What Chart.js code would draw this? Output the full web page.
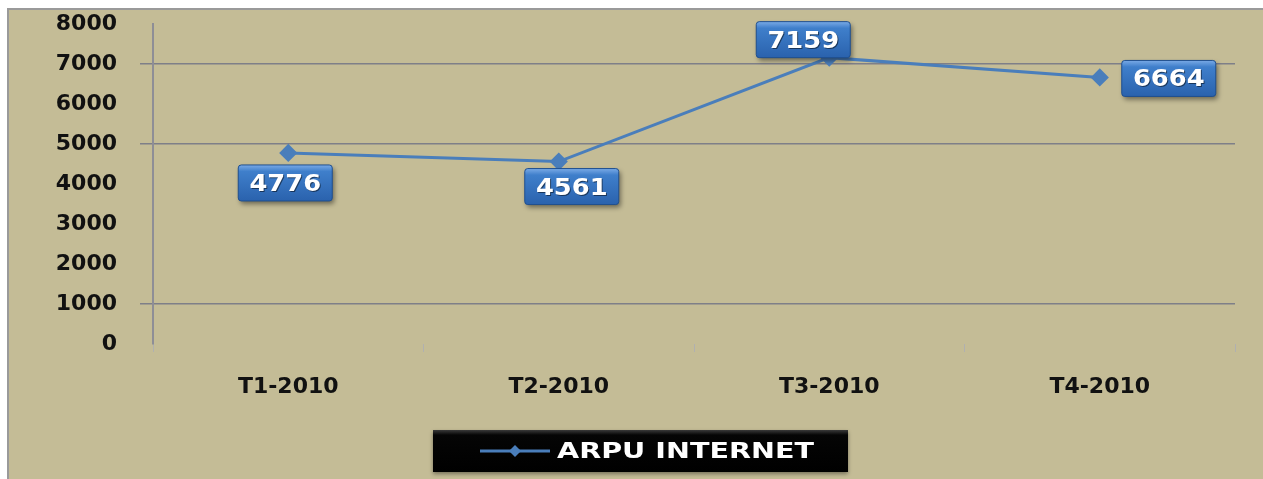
<!DOCTYPE html>
<html>
<head>
<meta charset="utf-8">
<script src="https://cdn.jsdelivr.net/npm/chart.js@4"></script>
<style>
  html, body { margin: 0; padding: 0; background: #fff; }
  #wrap { width: 1263px; height: 479px; }
</style>
</head>
<body>
<div id="wrap"><canvas id="arpuChart" width="1263" height="479"></canvas></div>
<script>
const quarters = ["T1-2010", "T2-2010", "T3-2010", "T4-2010"];
const arpuInternet = [4776, 4561, 7159, 6664];
const seriesName = "ARPU INTERNET";
const shownGrid = [1000, 5000, 7000];

const FONT = "'DejaVu Sans', Verdana, sans-serif";
const BLUE = '#4a7ebb';

// background + frame
const framePlugin = {
    id: 'frame',
    beforeDraw(chart) {
        const c = chart.ctx;
        c.save();
        c.fillStyle = '#ffffff';
        c.fillRect(0, 0, chart.width, chart.height);
        c.fillStyle = '#c4bc96';
        c.fillRect(8, 9, chart.width - 8, chart.height - 9);
        c.strokeStyle = '#9a9a9a';
        c.lineWidth = 2;
        c.strokeRect(8, 9, chart.width + 4, chart.height + 4);
        c.restore();
    }
};

function roundRect(c, x, y, w, h, r) {
    c.beginPath();
    c.moveTo(x + r, y);
    c.lineTo(x + w - r, y);
    c.quadraticCurveTo(x + w, y, x + w, y + r);
    c.lineTo(x + w, y + h - r);
    c.quadraticCurveTo(x + w, y + h, x + w - r, y + h);
    c.lineTo(x + r, y + h);
    c.quadraticCurveTo(x, y + h, x, y + h - r);
    c.lineTo(x, y + r);
    c.quadraticCurveTo(x, y, x + r, y);
    c.closePath();
}

// text squeezed wider, the source picture is stretched sideways
function wideText(c, txt, x, y, sx) {
    c.save();
    c.translate(x, y);
    c.scale(sx, 1);
    c.fillText(txt, 0, 0);
    c.restore();
}

// blue value boxes
const valueBoxes = {
    id: 'valueBoxes',
    afterDatasetsDraw(chart, args, opts) {
        const c = chart.ctx;
        const meta = chart.getDatasetMeta(0);
        meta.data.forEach((pt, i) => {
            const off = opts.offsets[i];
            const w = 94, h = 36;
            const cx = pt.x + off[0], cy = pt.y + off[1];
            const x = cx - w / 2, y = cy - h / 2;
            c.save();
            c.shadowColor = 'rgba(0,0,0,0.45)';
            c.shadowBlur = 5;
            c.shadowOffsetX = 2;
            c.shadowOffsetY = 3;
            const g = c.createLinearGradient(0, y, 0, y + h);
            g.addColorStop(0, '#7aaae6');
            g.addColorStop(0.18, '#3f7fcb');
            g.addColorStop(1, '#2a62ad');
            c.fillStyle = g;
            roundRect(c, x, y, w, h, 3);
            c.fill();
            c.shadowColor = 'transparent';
            c.strokeStyle = '#1f4f8f';
            c.lineWidth = 1;
            c.stroke();
            c.font = 'bold 23px ' + FONT;
            c.textAlign = 'center';
            c.textBaseline = 'middle';
            c.fillStyle = 'rgba(0,0,0,0.5)';
            wideText(c, String(arpuInternet[i]), cx + 1, cy + 3, 1.12);
            c.fillStyle = '#ffffff';
            wideText(c, String(arpuInternet[i]), cx, cy + 2, 1.12);
            c.restore();
        });
    }
};

// black legend strip at the bottom
const legendBox = {
    id: 'legendBox',
    afterDraw(chart) {
        const c = chart.ctx;
        const x = 433, y = 430, w = 415, h = 42;
        c.save();
        c.shadowColor = 'rgba(0,0,0,0.4)';
        c.shadowBlur = 4;
        c.shadowOffsetY = 2;
        const g = c.createLinearGradient(0, y, 0, y + h);
        g.addColorStop(0, '#3a3a3a');
        g.addColorStop(0.12, '#050505');
        g.addColorStop(1, '#000000');
        c.fillStyle = g;
        c.fillRect(x, y, w, h);
        c.shadowColor = 'transparent';
        const my = y + h / 2;
        c.strokeStyle = BLUE;
        c.lineWidth = 3;
        c.beginPath();
        c.moveTo(480, my);
        c.lineTo(550, my);
        c.stroke();
        c.fillStyle = BLUE;
        c.beginPath();
        c.moveTo(515, my - 6);
        c.lineTo(521, my);
        c.lineTo(515, my + 6);
        c.lineTo(509, my);
        c.closePath();
        c.fill();
        c.fillStyle = '#ffffff';
        c.font = 'bold 22px ' + FONT;
        c.textBaseline = 'middle';
        c.textAlign = 'left';
        wideText(c, seriesName, 557, my + 1, 1.3);
        c.restore();
    }
};

const ctx = document.querySelector('#arpuChart').getContext('2d');
const arpuChart = new Chart(ctx, {
    type: 'line',
    data: {
        labels: quarters,
        datasets: [{
            label: seriesName,
            data: arpuInternet,
            borderColor: BLUE,
            backgroundColor: BLUE,
            borderWidth: 3,
            pointStyle: 'rectRot',
            pointRadius: 7,
            pointHoverRadius: 7,
            tension: 0,
            fill: false
        }]
    },
    options: {
        responsive: false,
        animation: false,
        layout: { padding: { top: 24, right: 28, left: 0, bottom: 0 } },
        plugins: {
            legend: { display: false },
            tooltip: { enabled: false },
            valueBoxes: { offsets: [[-3, 30], [13, 25], [-26, -18], [69, 1]] }
        },
        scales: {
            x: {
                offset: true,
                grid: {
                    offset: true,
                    drawOnChartArea: false,
                    color: '#b0b0b0',
                    tickLength: 8
                },
                border: { display: false },
                ticks: {
                    padding: 22,
                    color: '#111',
                    font: { family: FONT, size: 22, weight: 'bold' }
                },
                afterFit(scale) { scale.height = 135; }
            },
            y: {
                min: 0,
                max: 8000,
                ticks: {
                    stepSize: 1000,
                    padding: 23,
                    color: '#111',
                    font: { family: FONT, size: 22, weight: 'bold' },
                    callback: (v) => String(v)
                },
                grid: {
                    tickLength: 13,
                    lineWidth: 1.5,
                    color: (c) => shownGrid.includes(c.tick && c.tick.value) ? '#7e7f88' : 'rgba(0,0,0,0)'
                },
                border: { display: true, color: '#8e8e96', width: 2 },
                afterFit(scale) {
                    scale.width = 153;
                    scale.paddingTop = 0;
                    scale.paddingBottom = 0;
                }
            }
        }
    },
    plugins: [framePlugin, valueBoxes, legendBox]
});
</script>
</body>
</html>
